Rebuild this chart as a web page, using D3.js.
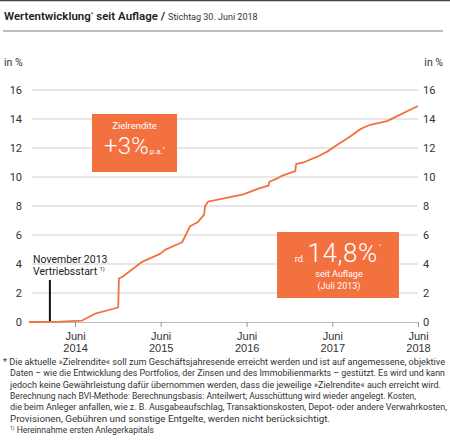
<!DOCTYPE html>
<html>
<head>
<meta charset="utf-8">
<script src="https://cdn.jsdelivr.net/npm/d3@7"></script>
<style>
  body { margin: 0; background: #fff; }
  svg { display: block; font-family: "Roboto", "Liberation Sans", sans-serif; }
</style>
</head>
<body>
<svg width="450" height="445"></svg>
<script>
const svg = d3.select("svg");
const orange = "#f3703f";

// values (date, percent)
const dates = ["2013-12-16", "2014-04-27", "2014-07-30", "2014-09-28", "2014-12-31", "2015-01-03",
  "2015-01-21", "2015-04-12", "2015-06-27", "2015-07-18", "2015-09-29", "2015-11-02",
  "2015-12-06", "2016-01-01", "2016-01-05", "2016-01-18", "2016-06-16", "2016-08-19",
  "2016-10-01", "2016-10-05", "2016-11-08", "2016-11-29", "2017-01-23", "2017-01-27",
  "2017-02-26", "2017-04-27", "2017-06-08", "2017-07-20", "2017-09-14", "2017-10-27",
  "2017-12-08", "2018-02-18", "2018-04-02", "2018-06-30"];
const values = [0, 0.02, 0.1, 0.6, 1.0, 3.0,
  3.15, 4.15, 4.7, 4.97, 5.5, 6.6,
  6.9, 7.4, 8.0, 8.3, 8.8, 9.2,
  9.4, 9.67, 9.9, 10.1, 10.4, 10.9,
  11.0, 11.4, 11.75, 12.2, 12.8, 13.3,
  13.6, 13.85, 14.2, 14.9];

const yTicks = [0, 2, 4, 6, 8, 10, 12, 14, 16];
const xTicks = ["2014-06-30", "2015-06-30", "2016-06-30", "2017-06-30", "2018-06-30"];
const xTickYears = ["2014", "2015", "2016", "2017", "2018"];
const marker = { date: "2014-03-15", value: 2.9 };

const footnotes = [
  "* Die aktuelle »Zielrendite« soll zum Geschäftsjahresende erreicht werden und ist auf angemessene, objektive",
  "Daten – wie die Entwicklung des Portfolios, der Zinsen und des Immobilienmarkts – gestützt. Es wird und kann",
  "jedoch keine Gewährleistung dafür übernommen werden, dass die jeweilige »Zielrendite« auch erreicht wird.",
  "Berechnung nach BVI-Methode: Berechnungsbasis: Anteilwert; Ausschüttung wird wieder angelegt. Kosten,",
  "die beim Anleger anfallen, wie z. B. Ausgabeaufschlag, Transaktionskosten, Depot- oder andere Verwahrkosten,",
  "Provisionen, Gebühren und sonstige Entgelte, werden nicht berücksichtigt."
];
const footWidths = [442, 435, 431, 406, 437, 320];

const parse = d3.timeParse("%Y-%m-%d");
const data = dates.map((d, i) => ({ date: parse(d), value: values[i] }));

const x = d3.scaleTime()
  .domain([parse(dates[0]), parse(dates[dates.length - 1])])
  .range([29, 418]);
const y = d3.scaleLinear().domain([0, 16]).range([322, 90]);

// header
svg.append("line").attr("x1", 0).attr("x2", 450).attr("y1", 0.5).attr("y2", 0.5)
  .attr("stroke", "#444").attr("stroke-width", 1.5);
const title = svg.append("text").attr("x", 4).attr("y", 20).attr("fill", "#222");
title.append("tspan").attr("font-size", 11.5).attr("font-weight", 600).text("Wertentwicklung");
title.append("tspan").attr("font-size", 6).attr("dy", -4).text("*");
title.append("tspan").attr("font-size", 11.5).attr("font-weight", 600).attr("dy", 4).text(" seit Auflage / ");
title.append("tspan").attr("font-size", 9).attr("fill", "#333").text("Stichtag 30. Juni 2018");
svg.append("line").attr("x1", 3).attr("x2", 443).attr("y1", 31).attr("y2", 31)
  .attr("stroke", "#aaa").attr("stroke-width", 1.5);

svg.append("text").attr("x", 4).attr("y", 66).attr("font-size", 10.5).attr("fill", "#333").text("in %");
svg.append("text").attr("x", 443).attr("y", 66).attr("text-anchor", "end")
  .attr("font-size", 10.5).attr("fill", "#333").text("in %");

// grid
svg.append("g").selectAll("line").data(yTicks.filter(d => d > 0)).join("line")
  .attr("x1", 32).attr("x2", 418)
  .attr("y1", d => y(d)).attr("y2", d => y(d))
  .attr("stroke", "#cfcfcf").attr("stroke-width", 1);

// y labels left and right
const yl = svg.append("g").attr("font-size", 11).attr("fill", "#333");
yl.selectAll("text.l").data(yTicks).join("text").attr("class", "l")
  .attr("x", 22).attr("y", d => y(d)).attr("dy", "0.35em").attr("text-anchor", "end")
  .text(d => d);
yl.selectAll("text.r").data(yTicks).join("text").attr("class", "r")
  .attr("x", 423).attr("y", d => y(d)).attr("dy", "0.35em")
  .text(d => d);

// x axis
const xAxis = d3.axisBottom(x)
  .tickValues(xTicks.map(parse))
  .tickSize(5)
  .tickFormat("");
const gx = svg.append("g").attr("transform", `translate(0,${y(0)})`).call(xAxis);
gx.select(".domain").attr("stroke", "#bbb").attr("d", `M29,0.5H418`);
gx.selectAll(".tick line").attr("stroke", "#999");
const xl = gx.selectAll(".tick").append("text").attr("fill", "#333").attr("font-size", 11)
  .attr("text-anchor", "middle");
xl.append("tspan").attr("x", 0).attr("y", 18).text("Juni");
xl.append("tspan").attr("x", 0).attr("y", 30).text((d, i) => xTickYears[i]);

// marker Vertriebsstart
svg.append("line")
  .attr("x1", x(parse(marker.date))).attr("x2", x(parse(marker.date)))
  .attr("y1", y(0)).attr("y2", y(marker.value))
  .attr("stroke", "#111").attr("stroke-width", 2);
svg.append("text").attr("x", 33).attr("y", 263).attr("font-size", 10.5).attr("fill", "#222")
  .text("November 2013");
const vs = svg.append("text").attr("x", 33).attr("y", 275).attr("font-size", 10.5).attr("fill", "#222");
vs.append("tspan").text("Vertriebsstart ");
vs.append("tspan").attr("font-size", 5.5).attr("dy", -4).text("1)");

// line
svg.append("path").datum(data)
  .attr("fill", "none").attr("stroke", orange).attr("stroke-width", 1.8)
  .attr("stroke-linejoin", "round")
  .attr("d", d3.line().x(d => x(d.date)).y(d => y(d.value)));

// box Zielrendite
svg.append("rect").attr("x", 92).attr("y", 114).attr("width", 85).attr("height", 58).attr("fill", orange);
svg.append("text").attr("x", 134.5).attr("y", 129).attr("text-anchor", "middle")
  .attr("fill", "#fff").attr("font-size", 9.5).text("Zielrendite");
const zr = svg.append("text").attr("x", 134.5).attr("y", 154).attr("text-anchor", "middle").attr("fill", "#fff");
zr.append("tspan").attr("font-size", 24).attr("font-weight", 300).text("+3%");
zr.append("tspan").attr("font-size", 8).attr("dx", 1).text("p.a.");
zr.append("tspan").attr("font-size", 5).attr("dy", -3).text("*");

// box 14,8%
svg.append("rect").attr("x", 277).attr("y", 232).attr("width", 122).attr("height", 66).attr("fill", orange);
const rd = svg.append("text").attr("x", 338).attr("y", 262).attr("text-anchor", "middle").attr("fill", "#fff");
rd.append("tspan").attr("font-size", 9).text("rd. ");
rd.append("tspan").attr("font-size", 26).attr("font-weight", 300).attr("letter-spacing", 0.6).text("14,8%");
rd.append("tspan").attr("font-size", 5).attr("dy", -14).text(" *");
svg.append("text").attr("x", 339).attr("y", 277).attr("text-anchor", "middle")
  .attr("fill", "#fff").attr("font-size", 9).text("seit Auflage");
svg.append("text").attr("x", 339).attr("y", 289).attr("text-anchor", "middle")
  .attr("fill", "#fff").attr("font-size", 9).text("(Juli 2013)");

// footnotes
const fn = svg.append("g").attr("fill", "#333").attr("font-size", 8.5);
fn.selectAll("text").data(footnotes).join("text")
  .attr("x", (d, i) => i === 0 ? 3 : 10)
  .attr("y", (d, i) => 365 + i * 11.35)
  .attr("textLength", (d, i) => footWidths[i])
  .attr("lengthAdjust", "spacingAndGlyphs")
  .text(d => d);
const last = fn.append("text").attr("x", 10).attr("y", 365 + 6 * 11.35);
last.append("tspan").attr("font-size", 5).attr("dy", -3).text("1)");
last.append("tspan").attr("dy", 3).text(" Hereinnahme ersten Anlegerkapitals");
</script>
</body>
</html>
